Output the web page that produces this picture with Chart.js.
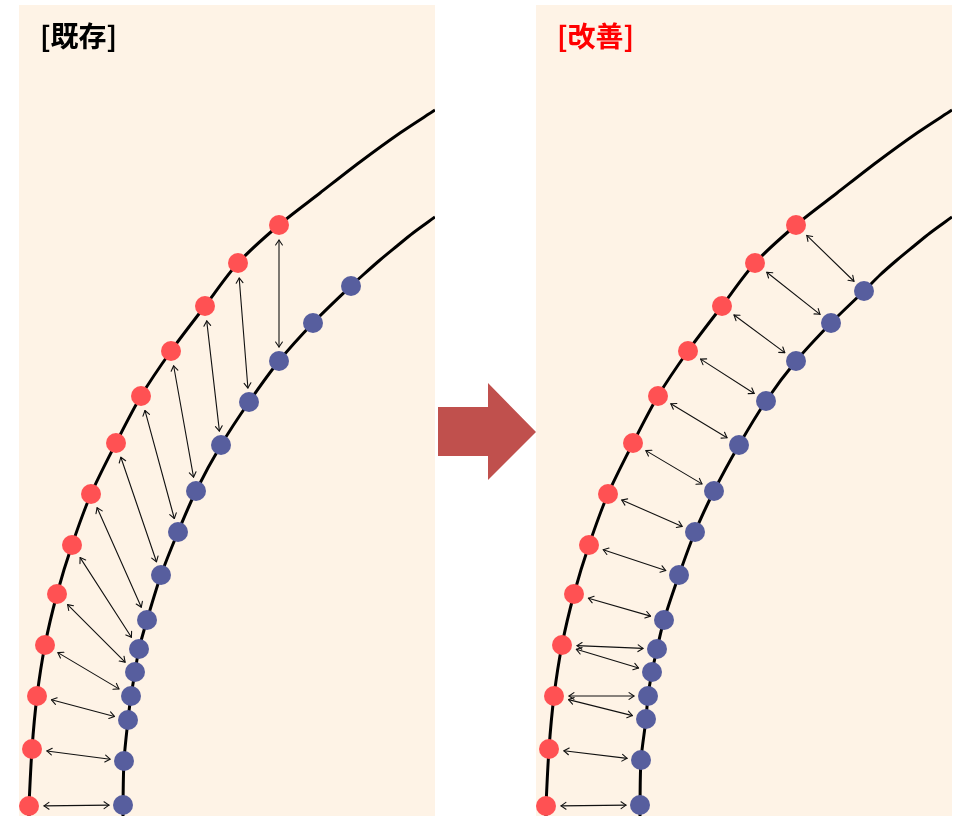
<!DOCTYPE html>
<html>
<head>
<meta charset="utf-8">
<script src="https://cdn.jsdelivr.net/npm/chart.js@4.4.1/dist/chart.umd.min.js"></script>
<style>
  html, body { margin: 0; padding: 0; background: #ffffff; }
  body { position: relative; width: 960px; height: 817px; overflow: hidden; }
  .panel { position: absolute; top: 5px; width: 416px; height: 811px; }
  #leftWrap { left: 19px; }
  #rightWrap { left: 536px; }
  #bigArrow {
    position: absolute; left: 438px; top: 383px; width: 98px; height: 97px;
    background: #c0504d;
    clip-path: polygon(0 24px, 50px 24px, 50px 0, 98px 49px, 50px 97px, 50px 73px, 0 73px);
  }
</style>
</head>
<body>
<div class="panel" id="leftWrap"><canvas id="leftChart" width="416" height="811"></canvas></div>
<div id="bigArrow"></div>
<div class="panel" id="rightWrap"><canvas id="rightChart" width="416" height="811"></canvas></div>
<script>
// panel units: x from left edge, y up from bottom edge
const redX = [260, 219, 186, 152, 122, 97, 72, 53, 38, 26, 18, 13, 10];
const redY = [591, 553, 510, 465, 420, 373, 322, 271, 222, 171, 120, 67, 10];

const blueLeftX = [332, 294, 260, 230, 202, 177, 159, 142, 128, 120, 116, 112, 109, 105, 104];
const blueLeftY = [530, 493, 455, 414, 371, 325, 284, 241, 196, 167, 144, 120, 96, 55, 11];
const blueRightX = [328, 295, 260, 230, 203, 178, 159, 143, 128, 121, 116, 112, 110, 105, 104];
const blueRightY = [525, 493, 455, 415, 371, 325, 284, 241, 196, 167, 144, 120, 97, 56, 11];

// curve extensions beyond the points (top end and bottom end)
const outerTopX = [416, 381, 341, 301];
const outerTopY = [706, 683, 654, 623];
const outerBottomX = [10];
const outerBottomY = [0];
const innerTopX = [416, 394, 378, 361, 344];
const innerTopY = [599, 583, 570, 556, 541];
const innerBottomX = [104];
const innerBottomY = [0];

// arrow pairs: [red index, blue index]
const pairsLeft = [[0, 2], [1, 3], [2, 4], [3, 5], [4, 6], [5, 7], [6, 8], [7, 9], [8, 10], [9, 11], [10, 12], [11, 13], [12, 14]];
const pairsRight = [[0, 0], [1, 1], [2, 2], [3, 3], [4, 4], [5, 5], [6, 6], [7, 7], [8, 8], [9, 9], [9, 10], [10, 11], [10, 12], [11, 13], [12, 14]];

const toPts = (xs, ys) => xs.map((x, i) => ({ x: x, y: ys[i] }));

function curve(topX, topY, midX, midY, botX, botY) {
  return toPts(topX.concat(midX, botX), topY.concat(midY, botY));
}

const arrowPlugin = {
  id: 'pairArrows',
  afterDatasetsDraw(chart, args, opts) {
    const { ctx } = chart;
    const sx = chart.scales.x;
    const sy = chart.scales.y;
    ctx.save();
    ctx.strokeStyle = '#111111';
    ctx.lineWidth = 1.1;
    ctx.lineCap = 'round';
    ctx.lineJoin = 'round';
    opts.pairs.forEach(([r, b]) => {
      const x1 = sx.getPixelForValue(redX[r]);
      const y1 = sy.getPixelForValue(redY[r]);
      const x2 = sx.getPixelForValue(opts.blueX[b]);
      const y2 = sy.getPixelForValue(opts.blueY[b]);
      const len = Math.hypot(x2 - x1, y2 - y1);
      const ux = (x2 - x1) / len;
      const uy = (y2 - y1) / len;
      const ax = x1 + ux * 15, ay = y1 + uy * 15;
      const bx = x2 - ux * 14, by = y2 - uy * 14;
      ctx.beginPath();
      ctx.moveTo(ax, ay);
      ctx.lineTo(bx, by);
      ctx.stroke();
      // open arrow heads on both ends
      const head = 6, spread = 0.6;
      [[ax, ay, ux, uy], [bx, by, -ux, -uy]].forEach(([px, py, dx, dy]) => {
        const ang = Math.atan2(dy, dx);
        ctx.beginPath();
        ctx.moveTo(px + head * Math.cos(ang + spread), py + head * Math.sin(ang + spread));
        ctx.lineTo(px, py);
        ctx.lineTo(px + head * Math.cos(ang - spread), py + head * Math.sin(ang - spread));
        ctx.stroke();
      });
    });
    ctx.restore();
  }
};

const panelPlugin = {
  id: 'panelDeco',
  beforeDraw(chart, args, opts) {
    const { ctx } = chart;
    ctx.save();
    ctx.fillStyle = '#fef3e6';
    ctx.fillRect(0, 0, chart.width, chart.height);
    ctx.restore();
  },
  afterDraw(chart, args, opts) {
    const { ctx } = chart;
    ctx.save();
    ctx.font = "bold 28px 'Noto Sans CJK JP', 'Noto Sans CJK SC', sans-serif";
    ctx.fillStyle = opts.color;
    ctx.textBaseline = 'middle';
    ctx.fillText(opts.text, 21, 31);
    ctx.restore();
  }
};

function makePanel(id, blueX, blueY, pairs, title, titleColor) {
  return new Chart(document.getElementById(id), {
    type: 'scatter',
    data: {
      datasets: [
        {
          label: 'red',
          data: toPts(redX, redY),
          pointRadius: 10,
          pointHoverRadius: 10,
          pointBorderWidth: 0,
          pointBackgroundColor: '#ff5153',
          clip: false,
          order: 0
        },
        {
          label: 'blue',
          data: toPts(blueX, blueY),
          pointRadius: 10,
          pointHoverRadius: 10,
          pointBorderWidth: 0,
          pointBackgroundColor: '#575e9e',
          clip: false,
          order: 1
        },
        {
          label: 'outer',
          data: curve(outerTopX, outerTopY, redX, redY, outerBottomX, outerBottomY),
          showLine: true,
          borderColor: '#000000',
          borderWidth: 3,
          pointRadius: 0,
          tension: 0.3,
          order: 2
        },
        {
          label: 'inner',
          data: curve(innerTopX, innerTopY, blueX, blueY, innerBottomX, innerBottomY),
          showLine: true,
          borderColor: '#000000',
          borderWidth: 3,
          pointRadius: 0,
          tension: 0.3,
          order: 3
        }
      ]
    },
    options: {
      responsive: false,
      animation: false,
      events: [],
      layout: { padding: 0, autoPadding: false },
      plugins: {
        legend: { display: false },
        tooltip: { enabled: false },
        pairArrows: { pairs: pairs, blueX: blueX, blueY: blueY },
        panelDeco: { text: title, color: titleColor }
      },
      scales: {
        x: { type: 'linear', min: 0, max: 416, display: false },
        y: { type: 'linear', min: 0, max: 811, display: false }
      }
    },
    plugins: [panelPlugin, arrowPlugin]
  });
}

makePanel('leftChart', blueLeftX, blueLeftY, pairsLeft, '[既存]', '#000000');
makePanel('rightChart', blueRightX, blueRightY, pairsRight, '[改善]', '#ff0000');
</script>
</body>
</html>
